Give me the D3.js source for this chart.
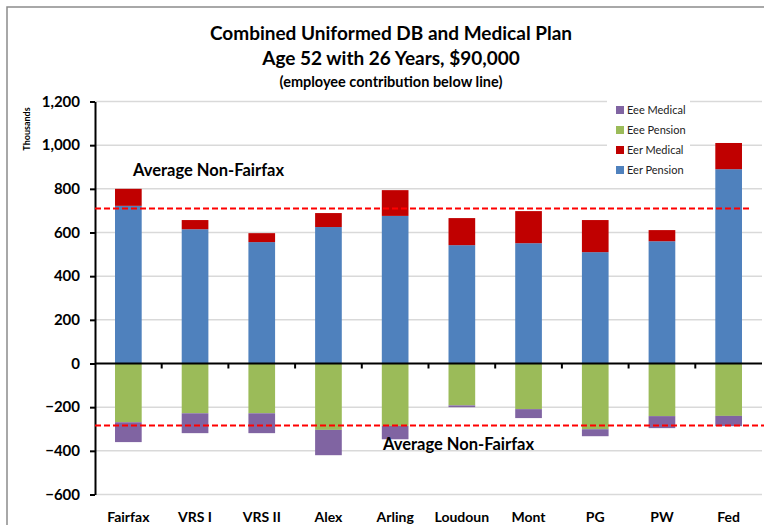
<!DOCTYPE html>
<html>
<head>
<meta charset="utf-8">
<script src="https://cdn.jsdelivr.net/npm/d3@7"></script>
<style>
  html, body { margin: 0; padding: 0; background: #fff; }
  svg { display: block; }
  text { font-family: Lato, "Open Sans", "DejaVu Sans", sans-serif; }
</style>
</head>
<body>
<svg id="chart" width="764" height="525"></svg>
<script>
// ---- data ----
const categories = ["Fairfax", "VRS I", "VRS II", "Alex", "Arling", "Loudoun", "Mont", "PG", "PW", "Fed"];
const eerPension = [722, 615, 556, 625, 676, 542, 551, 510, 560, 890];
const eerMedical = [78, 42, 41, 64, 118, 124, 147, 147, 51, 120];
const eeePension = [-269, -228, -228, -304, -286, -192, -209, -301, -241, -240];
const eeeMedical = [-91, -91, -91, -116, -61, -8, -41, -32, -55, -47];
const averageLines = [710, -284];
const yTicks = [-600, -400, -200, 0, 200, 400, 600, 800, 1000, 1200];
const titleLines = ["Combined Uniformed DB and Medical Plan", "Age 52 with 26 Years, $90,000", "(employee contribution below line)"];
const legendLabels = ["Eee Medical", "Eee Pension", "Eer Medical", "Eer Pension"];
const avgLabel = "Average Non-Fairfax";

const colors = {
  "Eer Pension": "#4f81bd",
  "Eer Medical": "#c00000",
  "Eee Pension": "#9bbb59",
  "Eee Medical": "#8064a2"
};

const svg = d3.select("#chart");

// chart border
svg.append("path")
  .attr("d", "M7,525 L7,7 L764,7")
  .attr("fill", "none").attr("stroke", "#8c8c8c").attr("stroke-width", 1.5);

const x = d3.scaleBand().domain(categories).range([95, 762]).padding(0);
const y = d3.scaleLinear().domain([-600, 1200]).range([494.5, 101.5]);

// gridlines
svg.append("g").selectAll("line").data(yTicks.filter(d => d !== 0)).join("line")
  .attr("x1", 95).attr("x2", 762)
  .attr("y1", d => y(d)).attr("y2", d => y(d))
  .attr("stroke", "#d9d9d9").attr("stroke-width", 1.5);

// stacked bars
const bw = x.bandwidth() * 0.4;
const bx = c => x(c) + (x.bandwidth() - bw) / 2;
const bars = svg.append("g");
categories.forEach((c, i) => {
  const segs = [
    { k: "Eer Pension", y0: 0, y1: eerPension[i] },
    { k: "Eer Medical", y0: eerPension[i], y1: eerPension[i] + eerMedical[i] },
    { k: "Eee Pension", y0: 0, y1: eeePension[i] },
    { k: "Eee Medical", y0: eeePension[i], y1: eeePension[i] + eeeMedical[i] }
  ];
  segs.forEach(s => {
    bars.append("rect")
      .attr("x", bx(c)).attr("width", bw)
      .attr("y", y(Math.max(s.y0, s.y1)))
      .attr("height", Math.abs(y(s.y0) - y(s.y1)))
      .attr("fill", colors[s.k]);
  });
});

// y axis
const yAxis = svg.append("g").attr("transform", "translate(95,0)")
  .call(d3.axisLeft(y).tickValues(yTicks).tickSize(5).tickSizeOuter(0).tickPadding(10)
    .tickFormat(d3.format(",")));
yAxis.select(".domain").attr("stroke", "#000").attr("stroke-width", 2);
yAxis.selectAll(".tick line").attr("stroke", "#000").attr("stroke-width", 2);
yAxis.selectAll(".tick text").attr("font-size", 15).attr("font-weight", "bold")
  .attr("fill", "#000").style("font-family", "Lato, sans-serif");

// x axis at zero
const xAxisG = svg.append("g");
xAxisG.append("line").attr("x1", 95).attr("x2", 762)
  .attr("y1", y(0)).attr("y2", y(0)).attr("stroke", "#000").attr("stroke-width", 2);
xAxisG.selectAll("line.tk").data(categories.slice(1)).join("line").attr("class", "tk")
  .attr("x1", d => x(d)).attr("x2", d => x(d))
  .attr("y1", y(0)).attr("y2", y(0) + 5)
  .attr("stroke", "#000").attr("stroke-width", 2);
xAxisG.selectAll("text").data(categories).join("text")
  .attr("x", d => x(d) + x.bandwidth() / 2)
  .attr("y", 522)
  .attr("text-anchor", "middle")
  .attr("font-size", 14).attr("font-weight", "bold").attr("fill", "#000")
  .text(d => d);

// average lines
svg.append("line").attr("x1", 95).attr("x2", 752)
  .attr("y1", y(averageLines[0])).attr("y2", y(averageLines[0]))
  .attr("stroke", "#ff0000").attr("stroke-width", 2).attr("stroke-dasharray", "6,3");
svg.append("line").attr("x1", 95).attr("x2", 764)
  .attr("y1", y(averageLines[1])).attr("y2", y(averageLines[1]))
  .attr("stroke", "#ff0000").attr("stroke-width", 2).attr("stroke-dasharray", "6,3");

svg.append("text").attr("x", 133).attr("y", 176)
  .attr("font-size", 16.5).attr("font-weight", "bold").attr("fill", "#000").text(avgLabel);
svg.append("text").attr("x", 383).attr("y", 450)
  .attr("font-size", 16.5).attr("font-weight", "bold").attr("fill", "#000").text(avgLabel);

// title
const tY = [40, 65, 87], tS = [19, 19, 14.5];
titleLines.forEach((t, i) => {
  svg.append("text").attr("x", 391).attr("y", tY[i]).attr("text-anchor", "middle")
    .attr("font-size", tS[i]).attr("font-weight", "bold").attr("fill", "#000").text(t);
});

// Thousands
svg.append("text").attr("transform", "translate(30,129) rotate(-90)")
  .attr("text-anchor", "middle").attr("font-size", 9).attr("font-weight", "bold")
  .attr("fill", "#000").text("Thousands");

// legend
const lg = svg.append("g");
lg.append("rect").attr("x", 607).attr("y", 95).attr("width", 83).attr("height", 85).attr("fill", "#fff");
const legendY = d3.scalePoint().domain(legendLabels).range([110, 170]);
lg.selectAll("rect.sw").data(legendLabels).join("rect").attr("class", "sw")
  .attr("x", 616).attr("y", d => legendY(d) - 4).attr("width", 8).attr("height", 8)
  .attr("fill", d => colors[d]);
lg.selectAll("text").data(legendLabels).join("text")
  .attr("x", 627).attr("y", d => legendY(d) + 4)
  .attr("font-size", 11).attr("fill", "#222").text(d => d);
</script>
</body>
</html>
